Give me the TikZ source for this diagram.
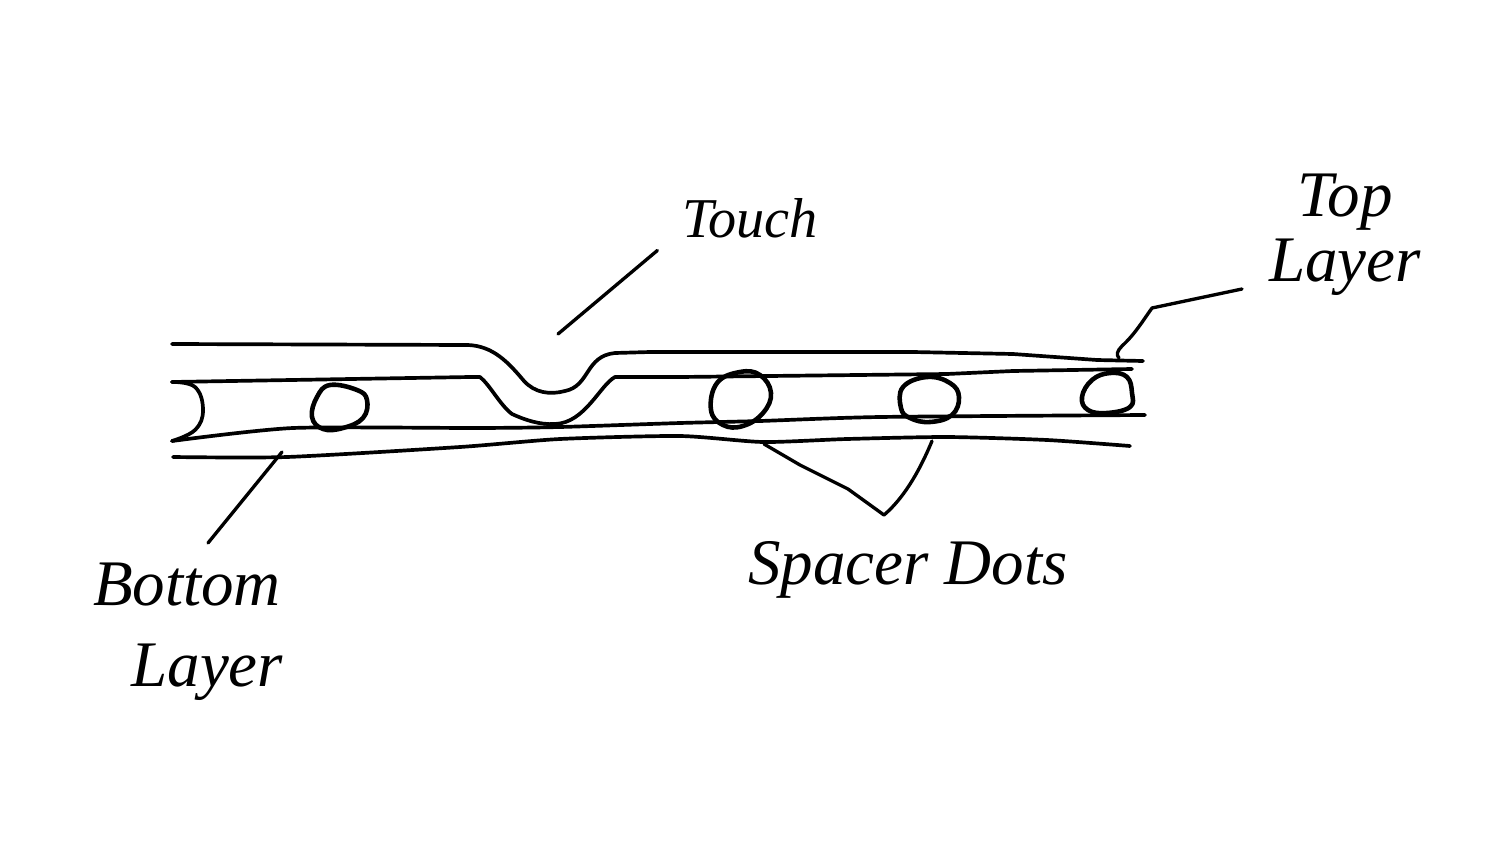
\documentclass[tikz,border=0pt]{standalone}
\usepackage{fontspec}
\setmainfont{Liberation Serif}
\usepackage{tikz}
\tikzset{sheetline/.style={draw=black,line width=2.1pt,line cap=round,line join=round}}
\tikzset{spacerdot/.style={draw=black,line width=2.6pt,line join=round}}
\tikzset{leaderline/.style={draw=black,line width=1.9pt,line cap=round,line join=round}}
\tikzset{handlabel/.style={inner sep=0pt,align=center,font=\fontsize{37}{46}\selectfont\itshape}}

\begin{document}
\begin{tikzpicture}[x=0.02cm,y=-0.02cm]
        \useasboundingbox (0,0) rectangle (1488,852);

        % top layer
        \draw[sheetline] (172,344) -- (468,345) .. controls (493,346) and (508,362) .. (524,381) .. controls (535,393) and (550,395) .. (565,391) .. controls (590,386) and (585,356) .. (615,353) -- (650,352) -- (913,352) -- (1013,354) -- (1097,360) -- (1143,361);
        \draw[sheetline] (172,382) -- (470,377) -- (480,377) .. controls (490,385) and (500,405) .. (512,414) .. controls (525,420) and (540,425) .. (555,424) .. controls (585,423) and (600,385) .. (615,377) -- (680,377) -- (947,374) -- (1013,371) -- (1132,369);

        % bottom layer
        \draw[sheetline] plot[smooth,tension=0.4] coordinates {(172,441) (293,428) (477,428) (560,427) (680,423) (760,421) (880,417) (1145,415)};
        \draw[sheetline] plot[smooth,tension=0.4] coordinates {(173,457) (287,457) (460,447) (560,439) (680,436) (763,442) (847,439) (947,437) (1047,440) (1130,446)};
        \draw[sheetline] plot[smooth,tension=0.7] coordinates {(172,382) (195,387) (203,410) (195,430) (172,441)};

        % spacer dots
        \draw[spacerdot] plot[smooth cycle,tension=0.7] coordinates {(330,385) (357,390) (367,400) (363,418) (343,428) (323,429) (312,417) (317,397)};
        \draw[spacerdot] plot[smooth cycle,tension=0.7] coordinates {(740,372) (760,375) (771,393) (763,413) (743,426) (723,425) (711,410) (717,383)};
        \draw[spacerdot] plot[smooth cycle,tension=0.7] coordinates {(927,377) (950,383) (959,397) (952,415) (930,422) (910,418) (901,408) (903,387)};
        \draw[spacerdot] plot[smooth cycle,tension=0.7] coordinates {(1110,373) (1127,377) (1132,393) (1130,407) (1107,413) (1088,410) (1082,397) (1092,380)};

        % labels
        \node[handlabel,font=\fontsize{32}{40}\selectfont\itshape] (labelTouch) at (750,218) {Touch};
        \node[handlabel] (labelTop) at (1345,235) {Top\\[-9pt]Layer};
        \node[handlabel] (labelBottom) at (187,632) {Bottom\\\hspace*{23pt}Layer};
        \node[handlabel] (labelSpacer) at (908,570) {Spacer Dots};

        % leaders
        \coordinate (touchFrom) at ([yshift=-7pt,xshift=-14pt]labelTouch.south west);
        \coordinate (touchTip) at (558,334);
        \draw[leaderline] (touchFrom) -- (touchTip);

        \coordinate (topFrom) at (1242,289);
        \coordinate (topTip) at (1119,358);
        \draw[leaderline] (topFrom) -- (1152,308) .. controls (1142,322) and (1135,334) .. (1122,346) .. controls (1117,351) and (1116,355) .. (topTip);

        \coordinate (bottomFrom) at (208,543);
        \coordinate (bottomTip) at (282,452);
        \draw[leaderline] (bottomFrom) -- (bottomTip);

        \coordinate (spacerFork) at (884,515);
        \coordinate (spacerTipA) at (764,444);
        \coordinate (spacerTipB) at (932,441);
        \draw[leaderline] (spacerTipA) -- (800,465) -- (848,489) -- (spacerFork) .. controls (898,503) and (915,482) .. (spacerTipB);

\end{tikzpicture}
\end{document}
